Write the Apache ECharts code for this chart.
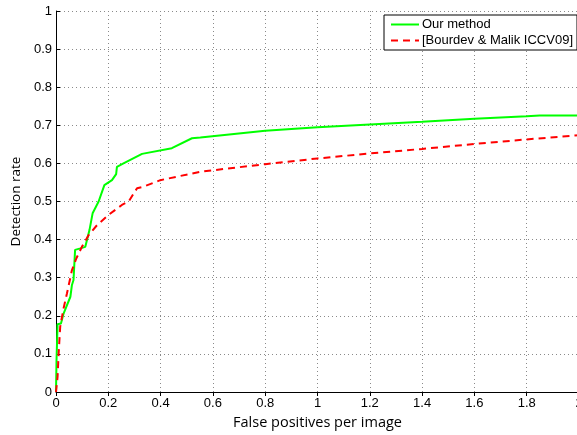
<!DOCTYPE html>
<html>
<head>
<meta charset="utf-8">
<script src="https://cdn.jsdelivr.net/npm/echarts@6/dist/echarts.min.js"></script>
<style>
  html, body { margin: 0; padding: 0; background: #fff; overflow: hidden; }
  #chart { width: 600px; height: 435px; }
</style>
</head>
<body>
<div id="chart"></div>
<script>
// curves
var oursX = [0, 0.002, 0.006, 0.019, 0.029, 0.055, 0.061, 0.067, 0.073, 0.093, 0.112, 0.128, 0.14, 0.163, 0.185, 0.188, 0.214, 0.23, 0.233, 0.258, 0.329, 0.443, 0.52, 0.552, 0.8, 1.0, 1.2, 1.4, 1.6, 1.8, 1.85, 2.0];
var oursY = [0, 0.084, 0.178, 0.18, 0.206, 0.25, 0.281, 0.294, 0.373, 0.377, 0.381, 0.425, 0.469, 0.5, 0.543, 0.548, 0.556, 0.572, 0.591, 0.6, 0.625, 0.64, 0.666, 0.668, 0.686, 0.695, 0.702, 0.709, 0.717, 0.724, 0.726, 0.726];

var bourdevX = [0, 0.006, 0.01, 0.016, 0.029, 0.042, 0.061, 0.078, 0.099, 0.125, 0.157, 0.201, 0.252, 0.278, 0.31, 0.335, 0.399, 0.475, 0.552, 0.8, 1.0, 1.2, 1.4, 1.6, 1.8, 2.0];
var bourdevY = [0, 0.04, 0.1, 0.171, 0.22, 0.259, 0.32, 0.351, 0.381, 0.412, 0.438, 0.465, 0.491, 0.5, 0.535, 0.539, 0.556, 0.567, 0.578, 0.598, 0.613, 0.626, 0.638, 0.651, 0.663, 0.674];

var seriesNames = ['Our method', '[Bourdev & Malik ICCV09]'];

function pairs(xs, ys) {
    var out = [];
    for (var i = 0; i < xs.length; i++) {
        out.push([xs[i], ys[i]]);
    }
    return out;
}

var myChart = echarts.init(document.getElementById('chart'));

var grid = { type: [1, 3], color: '#8a8a8a', width: 1 };
var tickFont = { fontFamily: 'Liberation Sans', fontSize: 13, color: '#000' };

option = {
    animation: false,
    backgroundColor: '#fff',
    // the plot runs a little past the 577px window, as in the picture
    grid: { left: 56, right: 21, top: 11, bottom: 43 },
    legend: {
        orient: 'vertical',
        left: 384,
        top: 15,
        padding: [3, 4, 3, 6],
        itemWidth: 28,
        itemHeight: 14,
        itemGap: 3,
        backgroundColor: '#fff',
        borderColor: '#000',
        borderWidth: 1,
        borderRadius: 0,
        itemStyle: { opacity: 0 },
        textStyle: { fontFamily: 'Liberation Sans', fontSize: 13, color: '#000', padding: [0, 0, 0, -2] },
        data: seriesNames
    },
    xAxis: {
        type: 'value',
        min: 0,
        max: 2,
        interval: 0.2,
        name: 'False positives per image',
        nameLocation: 'middle',
        nameGap: 22,
        nameTextStyle: { fontFamily: 'Open Sans', fontSize: 14.5, color: '#000' },
        axisLine: { lineStyle: { color: '#000', width: 1 } },
        axisTick: { length: 4, lineStyle: { color: '#000' } },
        axisLabel: Object.assign({ margin: 5 }, tickFont),
        splitLine: { show: true, lineStyle: grid }
    },
    yAxis: {
        type: 'value',
        min: 0,
        max: 1,
        interval: 0.1,
        name: 'Detection rate',
        nameLocation: 'middle',
        nameGap: 30,
        nameTextStyle: { fontFamily: 'Open Sans', fontSize: 13.5, color: '#000' },
        axisLine: { show: true, lineStyle: { color: '#000', width: 1 } },
        axisTick: { show: true, inside: true, length: 4, lineStyle: { color: '#000' } },
        axisLabel: Object.assign({ margin: 4 }, tickFont),
        splitLine: { show: true, lineStyle: grid }
    },
    series: [
        {
            name: seriesNames[0],
            type: 'line',
            symbol: 'none',
            smooth: false,
            data: pairs(oursX, oursY),
            itemStyle: { color: '#00ff00' },
            lineStyle: { color: '#00ff00', width: 2 },
            z: 3
        },
        {
            name: seriesNames[1],
            type: 'line',
            symbol: 'none',
            smooth: false,
            data: pairs(bourdevX, bourdevY),
            itemStyle: { color: '#ff0000' },
            lineStyle: { color: '#ff0000', width: 2, type: [7, 5] },
            z: 4
        }
    ]
};

myChart.setOption(option);
</script>
</body>
</html>
